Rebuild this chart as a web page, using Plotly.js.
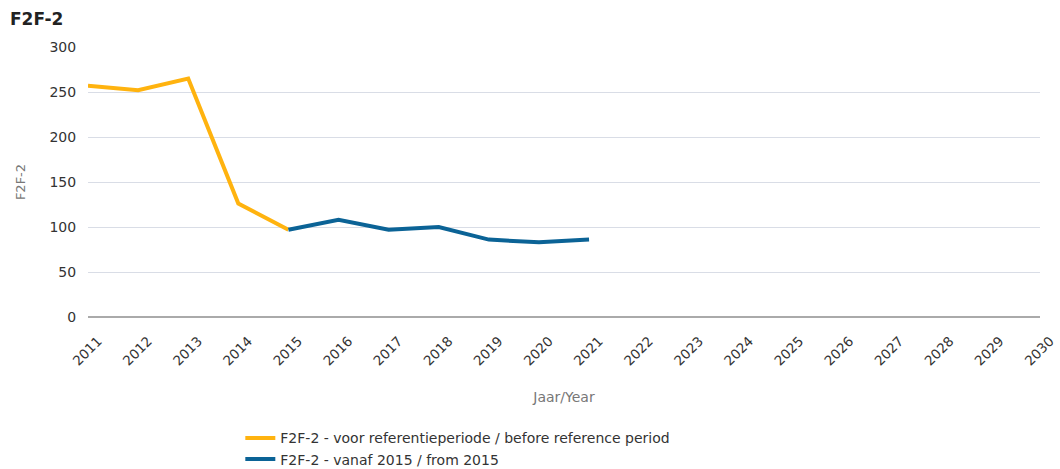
<!DOCTYPE html>
<html>
<head>
<meta charset="utf-8">
<script src="https://cdn.plot.ly/plotly-3.0.1.min.js"></script>
<style>html,body{margin:0;padding:0;background:#fff;}#chart{width:1060px;height:469px;}</style>
</head>
<body>
<div id="chart"></div>
<script>
const yearsBefore = [2011, 2012, 2013, 2014, 2015];
const valuesBefore = [257, 252, 265, 126, 97];
const yearsFrom = [2015, 2016, 2017, 2018, 2019, 2020, 2021];
const valuesFrom = [97, 108, 97, 100, 86, 83, 86];
const xTicks = [2011,2012,2013,2014,2015,2016,2017,2018,2019,2020,2021,2022,2023,2024,2025,2026,2027,2028,2029,2030];
const nameBefore = 'F2F-2 - voor referentieperiode / before reference period';
const nameFrom = 'F2F-2 - vanaf 2015 / from 2015';

const font = "'DejaVu Sans', Verdana, sans-serif";
const traces = [
  {x: yearsBefore, y: valuesBefore, type: 'scatter', mode: 'lines', name: nameBefore,
   line: {color: '#ffb30f', width: 4}},
  {x: yearsFrom, y: valuesFrom, type: 'scatter', mode: 'lines', name: nameFrom,
   line: {color: '#0b6396', width: 4}}
];
const layout = {
  width: 1060, height: 469,
  margin: {l: 88, r: 20, t: 47, b: 152, autoexpand: false},
  paper_bgcolor: '#fff', plot_bgcolor: '#fff',
  font: {family: font, color: '#333', size: 13},
  title: {text: '<b>F2F-2</b>', font: {family: font, size: 17, color: '#222'},
          xref: 'container', yref: 'container', x: 10/1060, xanchor: 'left', y: 1 - 19/469, yanchor: 'middle'},
  xaxis: {type: 'linear', range: [2011, 2030], tickvals: xTicks, ticktext: xTicks.map(String),
          tickangle: -45, showgrid: false, zeroline: false, showline: false, automargin: false,
          ticks: 'outside', ticklen: 10, tickcolor: 'rgba(0,0,0,0)', ticklabelshift: 10,
          tickfont: {size: 13.5, color: '#333'},
          title: {text: 'Jaar/Year', font: {size: 14, color: '#777'}, standoff: 24}},
  yaxis: {range: [0, 300], dtick: 50, showgrid: true, gridcolor: '#d9dde6', gridwidth: 1, automargin: false,
          zeroline: true, zerolinecolor: '#aaa', zerolinewidth: 2, showline: false,
          ticks: 'outside', ticklen: 8, tickcolor: 'rgba(0,0,0,0)',
          tickfont: {size: 14, color: '#333'},
          title: {text: 'F2F-2', font: {size: 13, color: '#777'}, standoff: 20}},
  showlegend: true,
  legend: {orientation: 'v', x: 0.16, xanchor: 'left', y: -0.39, yanchor: 'top',
           font: {size: 14, color: '#333'}, itemwidth: 30, tracegroupgap: 0, bgcolor: 'rgba(0,0,0,0)'}
};
Plotly.newPlot('chart', traces, layout, {displayModeBar: false, staticPlot: true});
</script>
</body>
</html>
